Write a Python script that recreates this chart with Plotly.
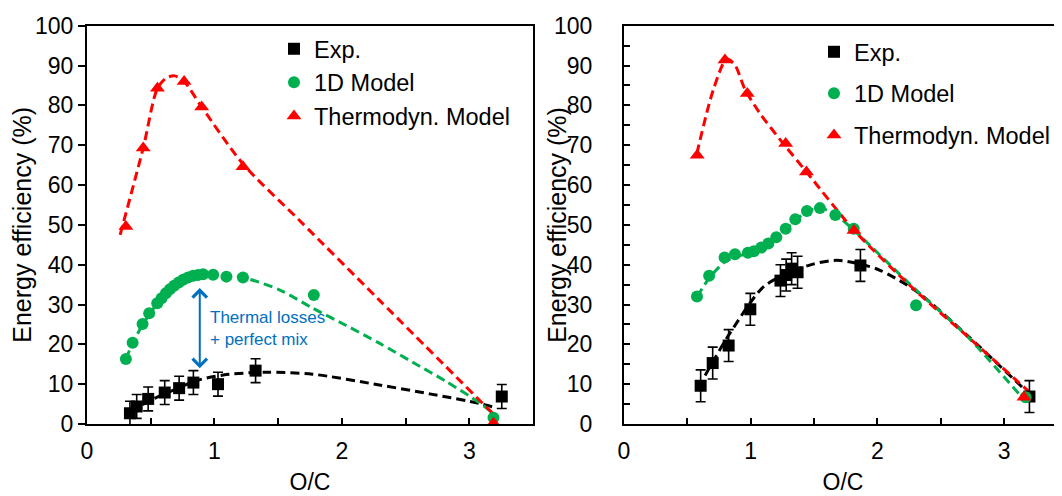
import plotly.graph_objects as go

# ---------------- data: left panel ----------------
left_exp_x = [0.337, 0.39, 0.48, 0.61, 0.723, 0.835, 1.028, 1.323, 3.255]
left_exp_y = [2.7, 4.4, 6.3, 7.9, 9.0, 10.4, 10.0, 13.4, 6.9]
left_exp_err = [3.0, 3.0, 3.0, 3.0, 3.0, 3.0, 3.0, 3.0, 3.0]

left_1d_x = [0.305, 0.358, 0.436, 0.488, 0.551, 0.585, 0.619, 0.65, 0.684, 0.72, 0.754,
             0.793, 0.833, 0.871, 0.911, 0.99, 1.094, 1.224, 1.78, 3.19]
left_1d_y = [16.3, 20.4, 25.1, 27.8, 30.3, 31.6, 32.8, 33.8, 34.7, 35.5, 36.2,
             36.8, 37.2, 37.4, 37.6, 37.5, 37.0, 36.8, 32.4, 1.6]

left_td_x = [0.305, 0.441, 0.553, 0.762, 0.9, 1.224, 3.19]
left_td_y = [49.6, 69.3, 84.3, 86.0, 79.6, 64.6, 0.2]

left_exp_fit_x = [0.34, 0.5, 0.7, 0.86, 1.07, 1.4, 1.77, 2.294, 2.7, 3.077, 3.195]
left_exp_fit_y = [3.0, 6.0, 8.8, 10.9, 12.3, 13.0, 12.5, 9.8, 7.5, 5.2, 4.2]

left_1d_fit_x = [0.305, 0.36, 0.44, 0.55, 0.65, 0.75, 0.85, 0.95, 1.05, 1.224, 1.51,
                 1.77, 2.03, 2.294, 2.556, 2.817, 3.077, 3.195]
left_1d_fit_y = [16.3, 20.4, 25.1, 30.2, 33.7, 36.1, 37.3, 37.7, 37.5, 36.8, 33.7,
                 29.1, 24.8, 20.3, 15.5, 10.7, 5.4, 2.5]

left_td_fit_x = [0.26, 0.441, 0.553, 0.624, 0.689, 0.762, 0.9, 1.224, 1.668, 2.294, 3.195]
left_td_fit_y = [47.5, 69.3, 84.3, 86.9, 87.4, 86.0, 79.6, 65.3, 51.1, 31.1, 2.3]

# ---------------- data: right panel ----------------
right_exp_x = [0.605, 0.7, 0.826, 0.997, 1.235, 1.28, 1.323, 1.37, 1.866, 3.2]
right_exp_y = [9.6, 15.3, 19.7, 28.8, 36.0, 37.4, 39.0, 38.1, 39.8, 6.9]
right_exp_err = [4.0, 4.0, 4.0, 4.0, 4.0, 4.0, 4.0, 4.0, 4.0, 4.0]

right_1d_x = [0.576, 0.672, 0.794, 0.876, 0.978, 1.025, 1.084, 1.139, 1.202, 1.276,
              1.352, 1.444, 1.546, 1.668, 1.813, 2.305, 3.17]
right_1d_y = [32.0, 37.2, 41.8, 42.6, 43.0, 43.4, 44.3, 45.3, 46.9, 49.0,
              51.4, 53.5, 54.2, 52.5, 49.0, 29.8, 6.7]

right_td_x = [0.578, 0.797, 0.973, 1.276, 1.44, 1.815, 3.157]
right_td_y = [67.5, 91.4, 83.0, 70.4, 63.3, 48.6, 6.7]

right_exp_fit_x = [0.64, 0.84, 1.1, 1.31, 1.5, 1.68, 1.86, 2.02, 2.3, 2.7, 3.2]
right_exp_fit_y = [12.2, 23.0, 34.4, 38.1, 40.2, 41.1, 40.2, 38.6, 33.5, 22.5, 7.5]

right_1d_fit_x = [0.578, 0.67, 0.8, 0.98, 1.14, 1.28, 1.44, 1.55, 1.67, 1.82, 2.3, 2.7, 3.16]
right_1d_fit_y = [32.0, 36.5, 40.8, 43.0, 45.3, 49.0, 53.3, 54.2, 52.5, 48.5, 33.8, 22.3, 6.0]

right_td_fit_x = [0.575, 0.704, 0.81, 0.876, 0.955, 1.073, 1.257, 1.44, 1.82, 2.3, 2.7, 3.2]
right_td_fit_y = [67.9, 83.8, 91.6, 90.1, 84.0, 78.0, 70.4, 63.3, 48.5, 33.5, 22.3, 8.0]

legend_names = ["Exp.", "1D Model", "Thermodyn. Model"]
annot_text = "Thermal losses<br>+ perfect mix"
x_title = "O/C"
y_title = "Energy efficiency (%)"

BLACK = "#000000"
GREEN = "#00B050"
RED = "#FF0000"
BLUE = "#0070C0"
FONT = "Liberation Sans, Arial, sans-serif"
DASH = "9px,5px"

fig = go.Figure()


def add_panel(xa, ya, leg, ex, ey, eerr, dx, dy, tx, ty, efx, efy, dfx, dfy, tfx, tfy):
    for fx, fy, col in [(efx, efy, BLACK), (dfx, dfy, GREEN), (tfx, tfy, RED)]:
        fig.add_trace(go.Scatter(x=fx, y=fy, mode="lines", xaxis=xa, yaxis=ya, showlegend=False,
                                 line=dict(color=col, width=3, dash=DASH, shape="spline",
                                           smoothing=0.8),
                                 hoverinfo="skip"))
    fig.add_trace(go.Scatter(x=ex, y=ey, mode="markers", name=legend_names[0], xaxis=xa, yaxis=ya,
                             legend=leg, legendgroup=leg + "a",
                             marker=dict(symbol="square", size=12, color=BLACK),
                             error_y=dict(type="data", array=eerr, visible=True, color=BLACK,
                                          thickness=1.6, width=5)))
    fig.add_trace(go.Scatter(x=dx, y=dy, mode="markers", name=legend_names[1], xaxis=xa, yaxis=ya,
                             legend=leg, legendgroup=leg + "b",
                             marker=dict(symbol="circle", size=12, color=GREEN)))
    fig.add_trace(go.Scatter(x=tx, y=ty, mode="markers", name=legend_names[2], xaxis=xa, yaxis=ya,
                             legend=leg, legendgroup=leg + "c",
                             marker=dict(symbol="triangle-up", size=13, color=RED)))


add_panel("x", "y", "legend", left_exp_x, left_exp_y, left_exp_err, left_1d_x, left_1d_y,
          left_td_x, left_td_y, left_exp_fit_x, left_exp_fit_y, left_1d_fit_x, left_1d_fit_y,
          left_td_fit_x, left_td_fit_y)
add_panel("x2", "y2", "legend2", right_exp_x, right_exp_y, right_exp_err, right_1d_x, right_1d_y,
          right_td_x, right_td_y, right_exp_fit_x, right_exp_fit_y, right_1d_fit_x, right_1d_fit_y,
          right_td_fit_x, right_td_fit_y)

# page has an 8px body margin: figure fills the rest of the window
OFF = 8
W, H = 1062 - OFF, 496 - OFF
ML, MR, MT, MB = 40, 0, 12, 56
PW, PH = W - ML - MR, H - MT - MB


def px(page_x):
    return (page_x - OFF - ML) / PW


def py(page_y):
    return (H - MB - (page_y - OFF)) / PH


tickfont = dict(family=FONT, size=23, color=BLACK)
titlefont = dict(family=FONT, size=25, color=BLACK)
xtitlefont = dict(family=FONT, size=23, color=BLACK)

xcommon = dict(showgrid=False, zeroline=False, showline=True, linecolor=BLACK, linewidth=2,
               mirror=True, ticks="inside", ticklen=6, tickwidth=1.5, tickcolor=BLACK,
               tick0=0, dtick=1, tickfont=tickfont, ticklabelstandoff=5,
               minor=dict(dtick=0.5, ticks="inside", ticklen=6, tickwidth=1.5, tickcolor=BLACK),
               title=dict(text=x_title, font=xtitlefont, standoff=11))

fig.update_layout(
    width=W, height=H,
    margin=dict(l=ML, r=MR, t=MT, b=MB),
    paper_bgcolor="white", plot_bgcolor="white",
    font=dict(family=FONT, color=BLACK),
    xaxis=dict(domain=[px(87), px(533)], range=[0, 3.5], anchor="y", **xcommon),
    yaxis=dict(domain=[py(424), py(25.7)], range=[0, 100], anchor="x", showgrid=False,
               zeroline=False, showline=True, linecolor=BLACK, linewidth=2, mirror=True,
               ticks="outside", ticklen=7, tickwidth=1.5, tickcolor=BLACK, dtick=10,
               tickfont=tickfont, title=dict(text=y_title, font=titlefont, standoff=4)),
    xaxis2=dict(domain=[px(624), 1.0], range=[0, (1062 - 624) / 126.7], anchor="y2", **xcommon),
    yaxis2=dict(domain=[py(424), py(25.7)], range=[0, 100], anchor="x2", showgrid=False,
                zeroline=False, showline=True, linecolor=BLACK, linewidth=2, mirror=False,
                ticks="inside", ticklen=6, tickwidth=1.5, tickcolor=BLACK, dtick=10,
                tickfont=tickfont, ticklabelstandoff=25,
                minor=dict(dtick=5, ticks="inside", ticklen=6, tickwidth=1.5, tickcolor=BLACK)),
    legend=dict(x=px(274), y=py(27), xanchor="left", yanchor="top", bgcolor="rgba(0,0,0,0)",
                font=dict(family=FONT, size=23.5, color=BLACK), tracegroupgap=0,
                itemsizing="trace"),
    legend2=dict(x=px(814), y=py(30), xanchor="left", yanchor="top", bgcolor="rgba(0,0,0,0)",
                 font=dict(family=FONT, size=23.5, color=BLACK), tracegroupgap=8,
                 itemsizing="trace"),
    showlegend=True,
)

# right panel y title (placed close to its tick labels as in the original)
fig.add_annotation(x=px(557), y=0.5 * (py(424) + py(25.7)), xref="paper", yref="paper",
                   text=y_title, textangle=-90, showarrow=False,
                   xanchor="center", yanchor="middle", font=titlefont)

# double-headed arrow and annotation text
fig.add_annotation(x=0.885, y=14, ax=0.885, ay=34.5, xref="x", yref="y", axref="x", ayref="y",
                   text="", showarrow=True, arrowhead=4, startarrowhead=4, arrowside="end+start",
                   arrowsize=1.4, startarrowsize=1.4, arrowwidth=2, arrowcolor=BLUE)
fig.add_annotation(x=0.95, y=24.0, xref="x", yref="y", text=annot_text, showarrow=False,
                   xanchor="left", yanchor="middle", align="left",
                   font=dict(family=FONT, size=17, color=BLUE))

fig.write_html("out.html")
